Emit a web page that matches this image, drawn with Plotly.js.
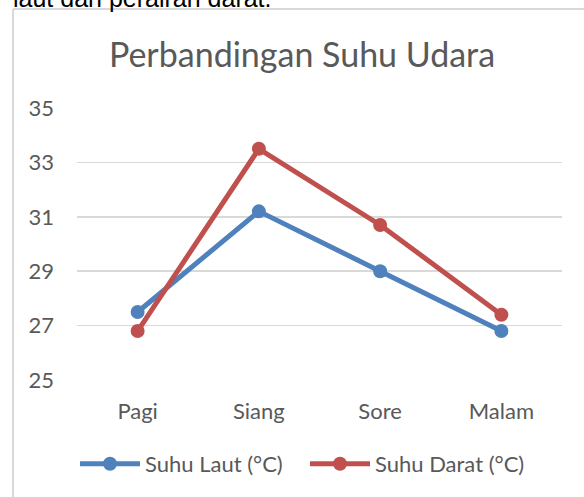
<!DOCTYPE html>
<html>
<head>
<meta charset="utf-8">
<script src="https://cdn.plot.ly/plotly-3.0.1.min.js"></script>
<style>html,body{margin:0;padding:0;background:#fff;}#chart{width:584px;height:497px;}</style>
</head>
<body>
<div id="chart"></div>
<script>
const categories = ["Pagi", "Siang", "Sore", "Malam"];
const suhuLaut = [27.5, 31.2, 29.0, 26.8];
const suhuDarat = [26.8, 33.5, 30.7, 27.4];
const seriesNames = ["Suhu Laut (°C)", "Suhu Darat (°C)"];
const yTicks = [25, 27, 29, 31, 33, 35];

const W = 584, H = 497;
const L = 77, R = 562, T = 108, B = 380;
const px = x => (x - L) / (R - L);
const py = y => (B - y) / (B - T);
const FONT = "Lato, 'Open Sans', sans-serif";

const traces = [
  {x: categories, y: suhuLaut, name: seriesNames[0], type: "scatter", mode: "lines+markers",
   line: {color: "#4F81BD", width: 5}, marker: {color: "#4F81BD", size: 14}},
  {x: categories, y: suhuDarat, name: seriesNames[1], type: "scatter", mode: "lines+markers",
   line: {color: "#C0504D", width: 5}, marker: {color: "#C0504D", size: 14}}
];

const layout = {
  width: W, height: H,
  margin: {l: L, r: W - R, t: T, b: H - B},
  paper_bgcolor: "#fff", plot_bgcolor: "#fff",
  font: {family: FONT, color: "#595959", size: 22},
  showlegend: true,
  title: {text: "Perbandingan Suhu Udara", font: {family: FONT, size: 34, color: "#595959"},
          x: px(302), xanchor: "center", xref: "paper", y: 1 - 55 / H, yanchor: "middle"},
  xaxis: {type: "category", range: [-0.5, 3.5], showgrid: false, zeroline: false, showline: false,
          ticks: "", ticklabelstandoff: 16,
          tickfont: {family: FONT, size: 22, color: "#595959"}, fixedrange: true},
  yaxis: {range: [25, 35], tickvals: yTicks, ticktext: yTicks.map(String), showgrid: true,
          gridcolor: "#D9D9D9", gridwidth: 1.5, zeroline: false, showline: false, ticks: "",
          ticklabelstandoff: 22,
          tickfont: {family: FONT, size: 22, color: "#595959"}, fixedrange: true},
  legend: {orientation: "h", x: px(305), xanchor: "center", y: py(464), yanchor: "middle",
           font: {family: FONT, size: 22, color: "#595959"}, itemwidth: 60,
           entrywidth: 155, entrywidthmode: "pixels", bgcolor: "rgba(0,0,0,0)"},
  shapes: [
    {type: "line", xref: "paper", yref: "paper", x0: px(13), x1: px(13), y0: py(9), y1: py(500),
     line: {color: "#D9D9D9", width: 2}},
    {type: "line", xref: "paper", yref: "paper", x0: px(13), x1: px(590), y0: py(9), y1: py(9),
     line: {color: "#D9D9D9", width: 2}}
  ],
  annotations: [
    {text: "laut dan perairan darat.", xref: "paper", yref: "paper", x: px(11), xanchor: "left",
     y: py(14), yanchor: "bottom", showarrow: false,
     font: {family: "'Liberation Sans', Arial, sans-serif", size: 25, color: "#000"}}
  ]
};

Plotly.newPlot("chart", traces, layout, {displayModeBar: false, staticPlot: true});
</script>
</body>
</html>
